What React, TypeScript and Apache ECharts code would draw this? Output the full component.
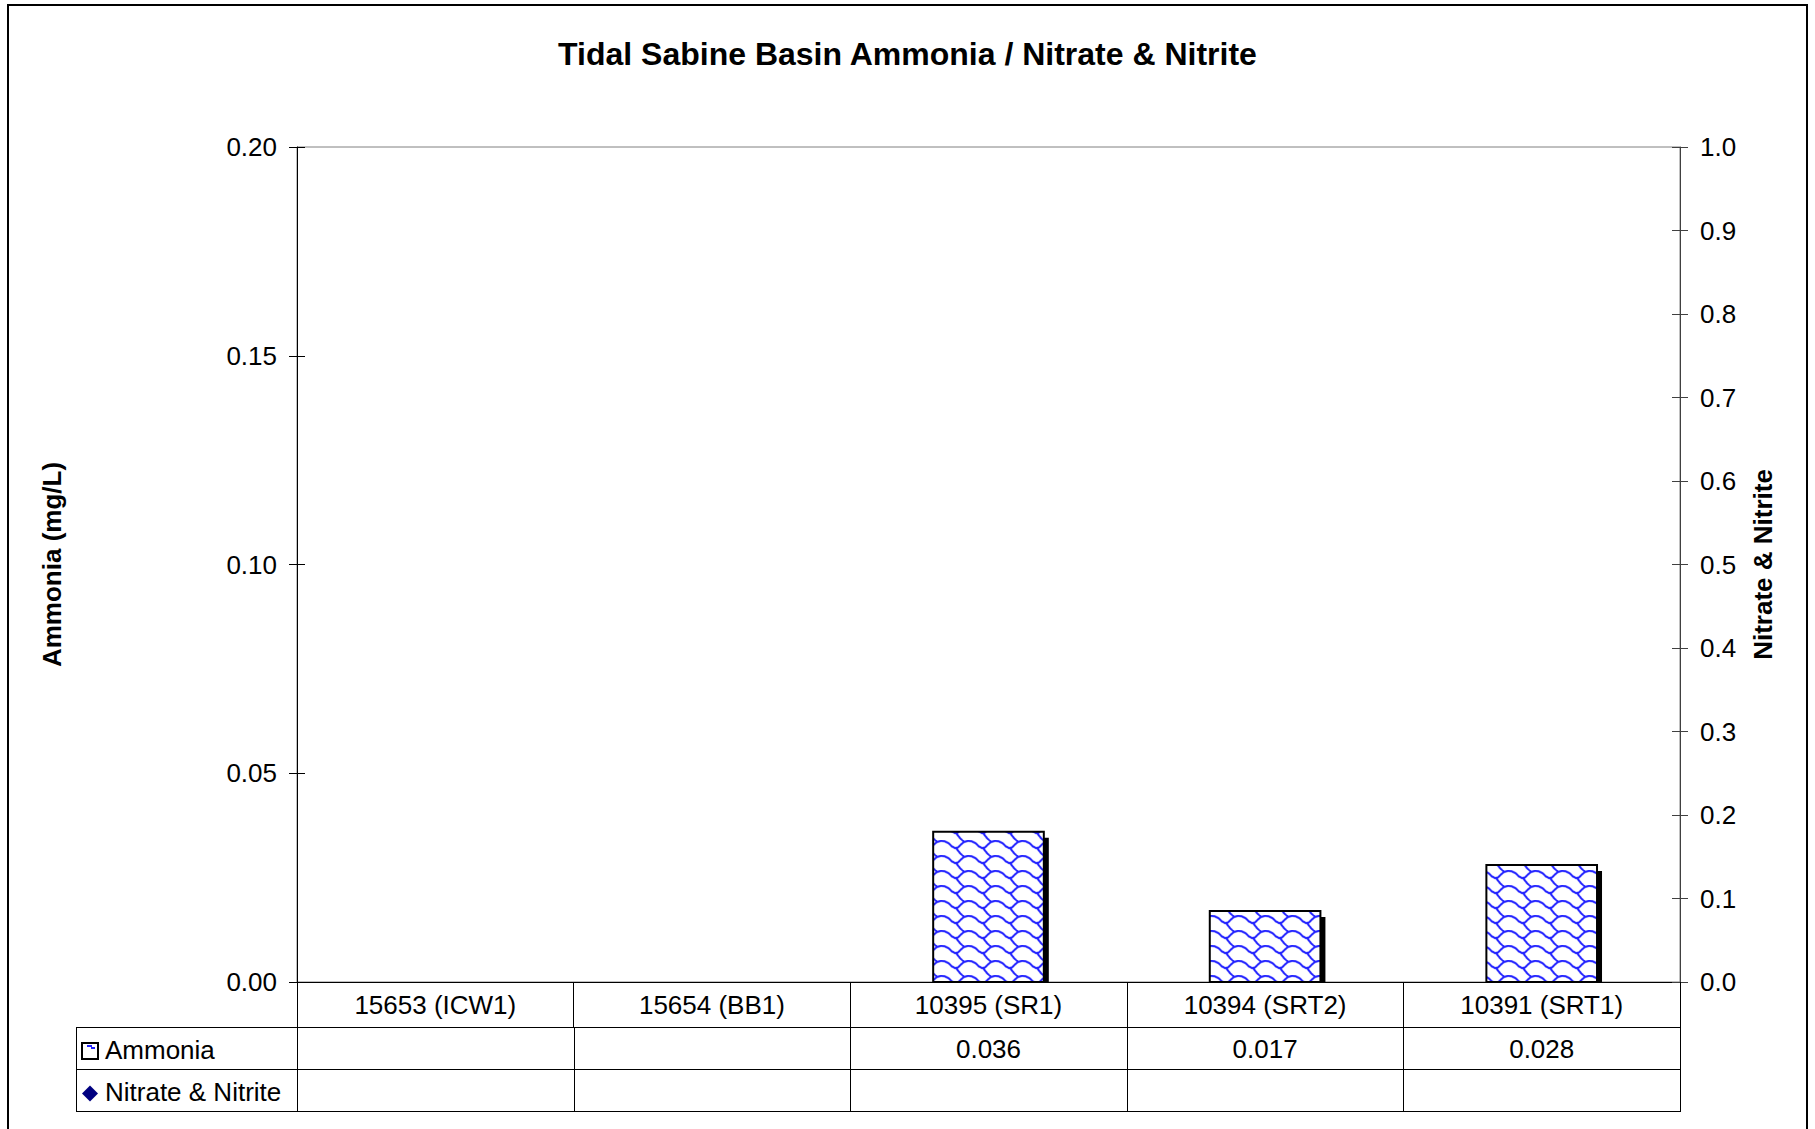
import React, { useEffect, useRef } from 'react';
import * as echarts from 'echarts';

// ---- Data ----
const categories: string[] = ['15653 (ICW1)', '15654 (BB1)', '10395 (SR1)', '10394 (SRT2)', '10391 (SRT1)'];
const ammonia: (number | null)[] = [null, null, 0.036, 0.017, 0.028];
const nitrateNitrite: (number | null)[] = [null, null, null, null, null];
const seriesNames: string[] = ['Ammonia', 'Nitrate & Nitrite'];
const chartTitle = 'Tidal Sabine Basin Ammonia / Nitrate & Nitrite';
const leftAxisTitle = 'Ammonia (mg/L)';
const rightAxisTitle = 'Nitrate & Nitrite';
const leftAxisRange = { min: 0, max: 0.2, interval: 0.05, decimals: 2 };
const rightAxisRange = { min: 0, max: 1.0, interval: 0.1, decimals: 1 };

const FONT = '"Liberation Sans", Arial, Helvetica, sans-serif';
const PATTERN_BLUE = '#2020ff';

function makeShinglePattern(): HTMLCanvasElement {
  const W = 27, H = 15, k = 3;
  const c = document.createElement('canvas');
  c.width = W * k;
  c.height = H * k;
  const ctx = c.getContext('2d')!;
  ctx.scale(k, k);
  ctx.fillStyle = '#ffffff';
  ctx.fillRect(0, 0, W, H);
  ctx.strokeStyle = PATTERN_BLUE;
  ctx.lineWidth = 2;
  ctx.lineJoin = 'round';
  ctx.lineCap = 'round';
  const wave = [[0, 1.5], [4, 3.5], [7, 6.5], [10, 8], [13, 7.5], [16, 4.5], [19, 2], [23, 1], [27, 1.5]];
  const conn = [[11, 8], [13, 10.5], [15, 13], [17.5, 15.5], [19, 17]];
  const segs = [wave, conn];
  for (const dx of [-W, 0, W]) {
    for (const dy of [-H, 0, H]) {
      for (const seg of segs) {
        ctx.beginPath();
        seg.forEach(([px, py], i) => {
          const X = px + dx;
          const Y = py + dy;
          if (i === 0) ctx.moveTo(X, Y);
          else ctx.lineTo(X, Y);
        });
        ctx.stroke();
      }
    }
  }
  return c;
}

const fmt = (v: number | null, d: number) => (v == null ? '' : v.toFixed(d));

export default function App() {
  const ref = useRef<HTMLDivElement>(null);

  useEffect(() => {
    if (!ref.current) return;
    const chart = echarts.init(ref.current, null, { renderer: 'svg' });
    const pattern: any = {
      image: makeShinglePattern(),
      repeat: 'repeat',
      imageWidth: 27,
      imageHeight: 15,
    };

    const labelText = { fontSize: 26, color: '#000', fontFamily: FONT };
    const baseX: any = {
      type: 'category',
      data: categories,
      position: 'bottom',
      boundaryGap: true,
      splitLine: { show: false },
    };

    const gridLeft = 297, gridTop = 147, gridW = 1383, gridH = 835;
    const gridBottomY = gridTop + gridH;
    const rowCat = 45, rowData = 42;
    const y1 = gridBottomY + rowCat;
    const y2 = y1 + rowData;
    const y3 = y2 + rowData;
    const tableLeft = 76;

    const ammoniaData = ammonia
      .map((v, i) => (v == null ? null : [i, v]))
      .filter((d) => d !== null);

    const baseGraphic: any[] = [
      {
        type: 'rect',
        shape: { x: 8, y: 5, width: 1799, height: 1200 },
        style: { fill: 'none', stroke: '#000', lineWidth: 2 },
        silent: true,
      },
      {
        type: 'text',
        x: 52,
        y: gridTop + gridH / 2,
        rotation: Math.PI / 2,
        style: {
          text: leftAxisTitle,
          font: `bold 26px ${FONT}`,
          fill: '#000',
          align: 'center',
          verticalAlign: 'middle',
          textAlign: 'center',
          textVerticalAlign: 'middle',
        },
      },
      {
        type: 'text',
        x: 1763,
        y: gridTop + gridH / 2,
        rotation: Math.PI / 2,
        style: {
          text: rightAxisTitle,
          font: `bold 26px ${FONT}`,
          fill: '#000',
          align: 'center',
          verticalAlign: 'middle',
          textAlign: 'center',
          textVerticalAlign: 'middle',
        },
      },
      {
        type: 'rect',
        shape: { x: 82, y: 1043, width: 16, height: 16 },
        style: { fill: '#fff', stroke: '#000', lineWidth: 2 },
      },
      { type: 'rect', shape: { x: 87, y: 1045, width: 5, height: 2 }, style: { fill: PATTERN_BLUE } },
      { type: 'rect', shape: { x: 91, y: 1047, width: 4, height: 2 }, style: { fill: PATTERN_BLUE } },
      {
        type: 'text',
        x: 105,
        y: (y1 + y2) / 2 + 2,
        style: {
          text: seriesNames[0],
          font: `26px ${FONT}`,
          fill: '#000',
          align: 'left',
          verticalAlign: 'middle',
          textAlign: 'left',
          textVerticalAlign: 'middle',
        },
      },
      {
        type: 'polygon',
        shape: { points: [[90, 1085.5], [98, 1093.5], [90, 1101.5], [82, 1093.5]] },
        style: { fill: '#000080' },
      },
      {
        type: 'text',
        x: 105,
        y: (y2 + y3) / 2 + 2,
        style: {
          text: seriesNames[1],
          font: `26px ${FONT}`,
          fill: '#000',
          align: 'left',
          verticalAlign: 'middle',
          textAlign: 'left',
          textVerticalAlign: 'middle',
        },
      },
    ];

    const option: any = {
      animation: false,
      backgroundColor: '#ffffff',
      title: {
        text: chartTitle,
        left: 'center',
        top: 33,
        textStyle: { fontSize: 32, fontWeight: 'bold', fontFamily: FONT, color: '#000' },
      },
      grid: {
        left: gridLeft,
        top: gridTop,
        width: gridW,
        height: gridH,
        show: true,
        borderColor: '#808080',
        borderWidth: 1,
        backgroundColor: 'transparent',
      },
      xAxis: [
        {
          ...baseX,
          axisLine: { show: true, onZero: false, lineStyle: { color: '#000', width: 1 } },
          axisTick: { show: true, interval: 0, length: rowCat, lineStyle: { color: '#000' } },
          axisLabel: { interval: 0, margin: 22.5, verticalAlign: 'middle', ...labelText },
        },
        {
          ...baseX,
          offset: rowCat,
          axisLine: { show: false, onZero: false },
          axisTick: { show: false },
          axisLabel: {
            interval: 0,
            margin: 22,
            verticalAlign: 'middle',
            ...labelText,
            formatter: (_v: string, i: number) => fmt(ammonia[i], 3),
          },
        },
        {
          ...baseX,
          offset: rowCat + rowData,
          axisLine: { show: false, onZero: false },
          axisTick: { show: false },
          axisLabel: {
            interval: 0,
            margin: 22,
            verticalAlign: 'middle',
            ...labelText,
            formatter: (_v: string, i: number) => fmt(nitrateNitrite[i], 3),
          },
        },
      ],
      yAxis: [
        {
          type: 'value',
          position: 'left',
          min: leftAxisRange.min,
          max: leftAxisRange.max,
          interval: leftAxisRange.interval,
          axisLine: { show: true, lineStyle: { color: '#000' } },
          axisTick: { show: true, length: 8, lineStyle: { color: '#000' } },
          axisLabel: { margin: 20, ...labelText, formatter: (v: number) => v.toFixed(leftAxisRange.decimals) },
          splitLine: { show: false },
        },
        {
          type: 'value',
          position: 'right',
          min: rightAxisRange.min,
          max: rightAxisRange.max,
          interval: rightAxisRange.interval,
          axisLine: { show: true, lineStyle: { color: '#404040' } },
          axisTick: { show: true, length: 8, lineStyle: { color: '#404040' } },
          axisLabel: { margin: 20, ...labelText, formatter: (v: number) => v.toFixed(rightAxisRange.decimals) },
          splitLine: { show: false },
        },
        {
          type: 'value',
          position: 'left',
          min: leftAxisRange.min,
          max: leftAxisRange.max,
          interval: leftAxisRange.interval,
          axisLine: { show: false },
          axisTick: { show: true, inside: true, length: 8, lineStyle: { color: '#000' } },
          axisLabel: { show: false },
          splitLine: { show: false },
        },
        {
          type: 'value',
          position: 'right',
          min: rightAxisRange.min,
          max: rightAxisRange.max,
          interval: rightAxisRange.interval,
          axisLine: { show: false },
          axisTick: { show: true, inside: true, length: 8, lineStyle: { color: '#404040' } },
          axisLabel: { show: false },
          splitLine: { show: false },
        },
      ],
      series: [
        {
          name: seriesNames[0],
          type: 'custom',
          xAxisIndex: 0,
          yAxisIndex: 0,
          encode: { x: 0, y: 1 },
          data: ammoniaData,
          z: 3,
          renderItem: (_params: any, api: any) => {
            const xi = api.value(0);
            const v = api.value(1);
            if (v == null || isNaN(v)) return null;
            const top = api.coord([xi, v]);
            const base = api.coord([xi, 0]);
            const bw = api.size([1, 0])[0] * 0.4;
            const x0 = top[0] - bw / 2;
            const h = base[1] - top[1];
            return {
              type: 'group',
              children: [
                {
                  type: 'rect',
                  shape: { x: x0 + 5, y: top[1] + 6, width: bw, height: Math.max(0, h - 6) },
                  style: { fill: '#000' },
                },
                {
                  type: 'rect',
                  shape: { x: x0, y: top[1], width: bw, height: h },
                  style: { fill: pattern, stroke: '#000', lineWidth: 2 },
                },
              ],
            };
          },
        },
        {
          name: seriesNames[1],
          type: 'line',
          xAxisIndex: 0,
          yAxisIndex: 1,
          data: nitrateNitrite,
          symbol: 'diamond',
          symbolSize: 14,
          itemStyle: { color: '#000080' },
          lineStyle: { width: 0 },
        },
      ],
      graphic: baseGraphic,
    };

    chart.setOption(option);

    // Data-table grid lines, placed from the category axis scale
    const centers = categories.map((c) => chart.convertToPixel({ xAxisIndex: 0 }, c) as number);
    const band = centers.length > 1 ? centers[1] - centers[0] : gridW;
    const bounds = [centers[0] - band / 2, ...centers.map((c) => c + band / 2)].map((b) => Math.round(b) + 0.5);
    const right = bounds[bounds.length - 1];
    const lineStyle = { stroke: '#000', lineWidth: 1 };
    const tableLines: any[] = [];
    for (const y of [y1, y2, y3]) {
      tableLines.push({ type: 'line', shape: { x1: tableLeft, y1: y + 0.5, x2: right + 0.5, y2: y + 0.5 }, style: lineStyle });
    }
    tableLines.push({ type: 'line', shape: { x1: tableLeft + 0.5, y1: y1, x2: tableLeft + 0.5, y2: y3 + 1 }, style: lineStyle });
    for (const b of bounds) {
      tableLines.push({ type: 'line', shape: { x1: b, y1: y1, x2: b, y2: y3 + 1 }, style: lineStyle });
    }
    chart.setOption({ graphic: [...baseGraphic, ...tableLines] });

    return () => {
      chart.dispose();
    };
  }, []);

  return (
    <div
      ref={ref}
      style={{ position: 'absolute', left: 0, top: 0, width: 1815, height: 1129, background: '#fff' }}
    />
  );
}
